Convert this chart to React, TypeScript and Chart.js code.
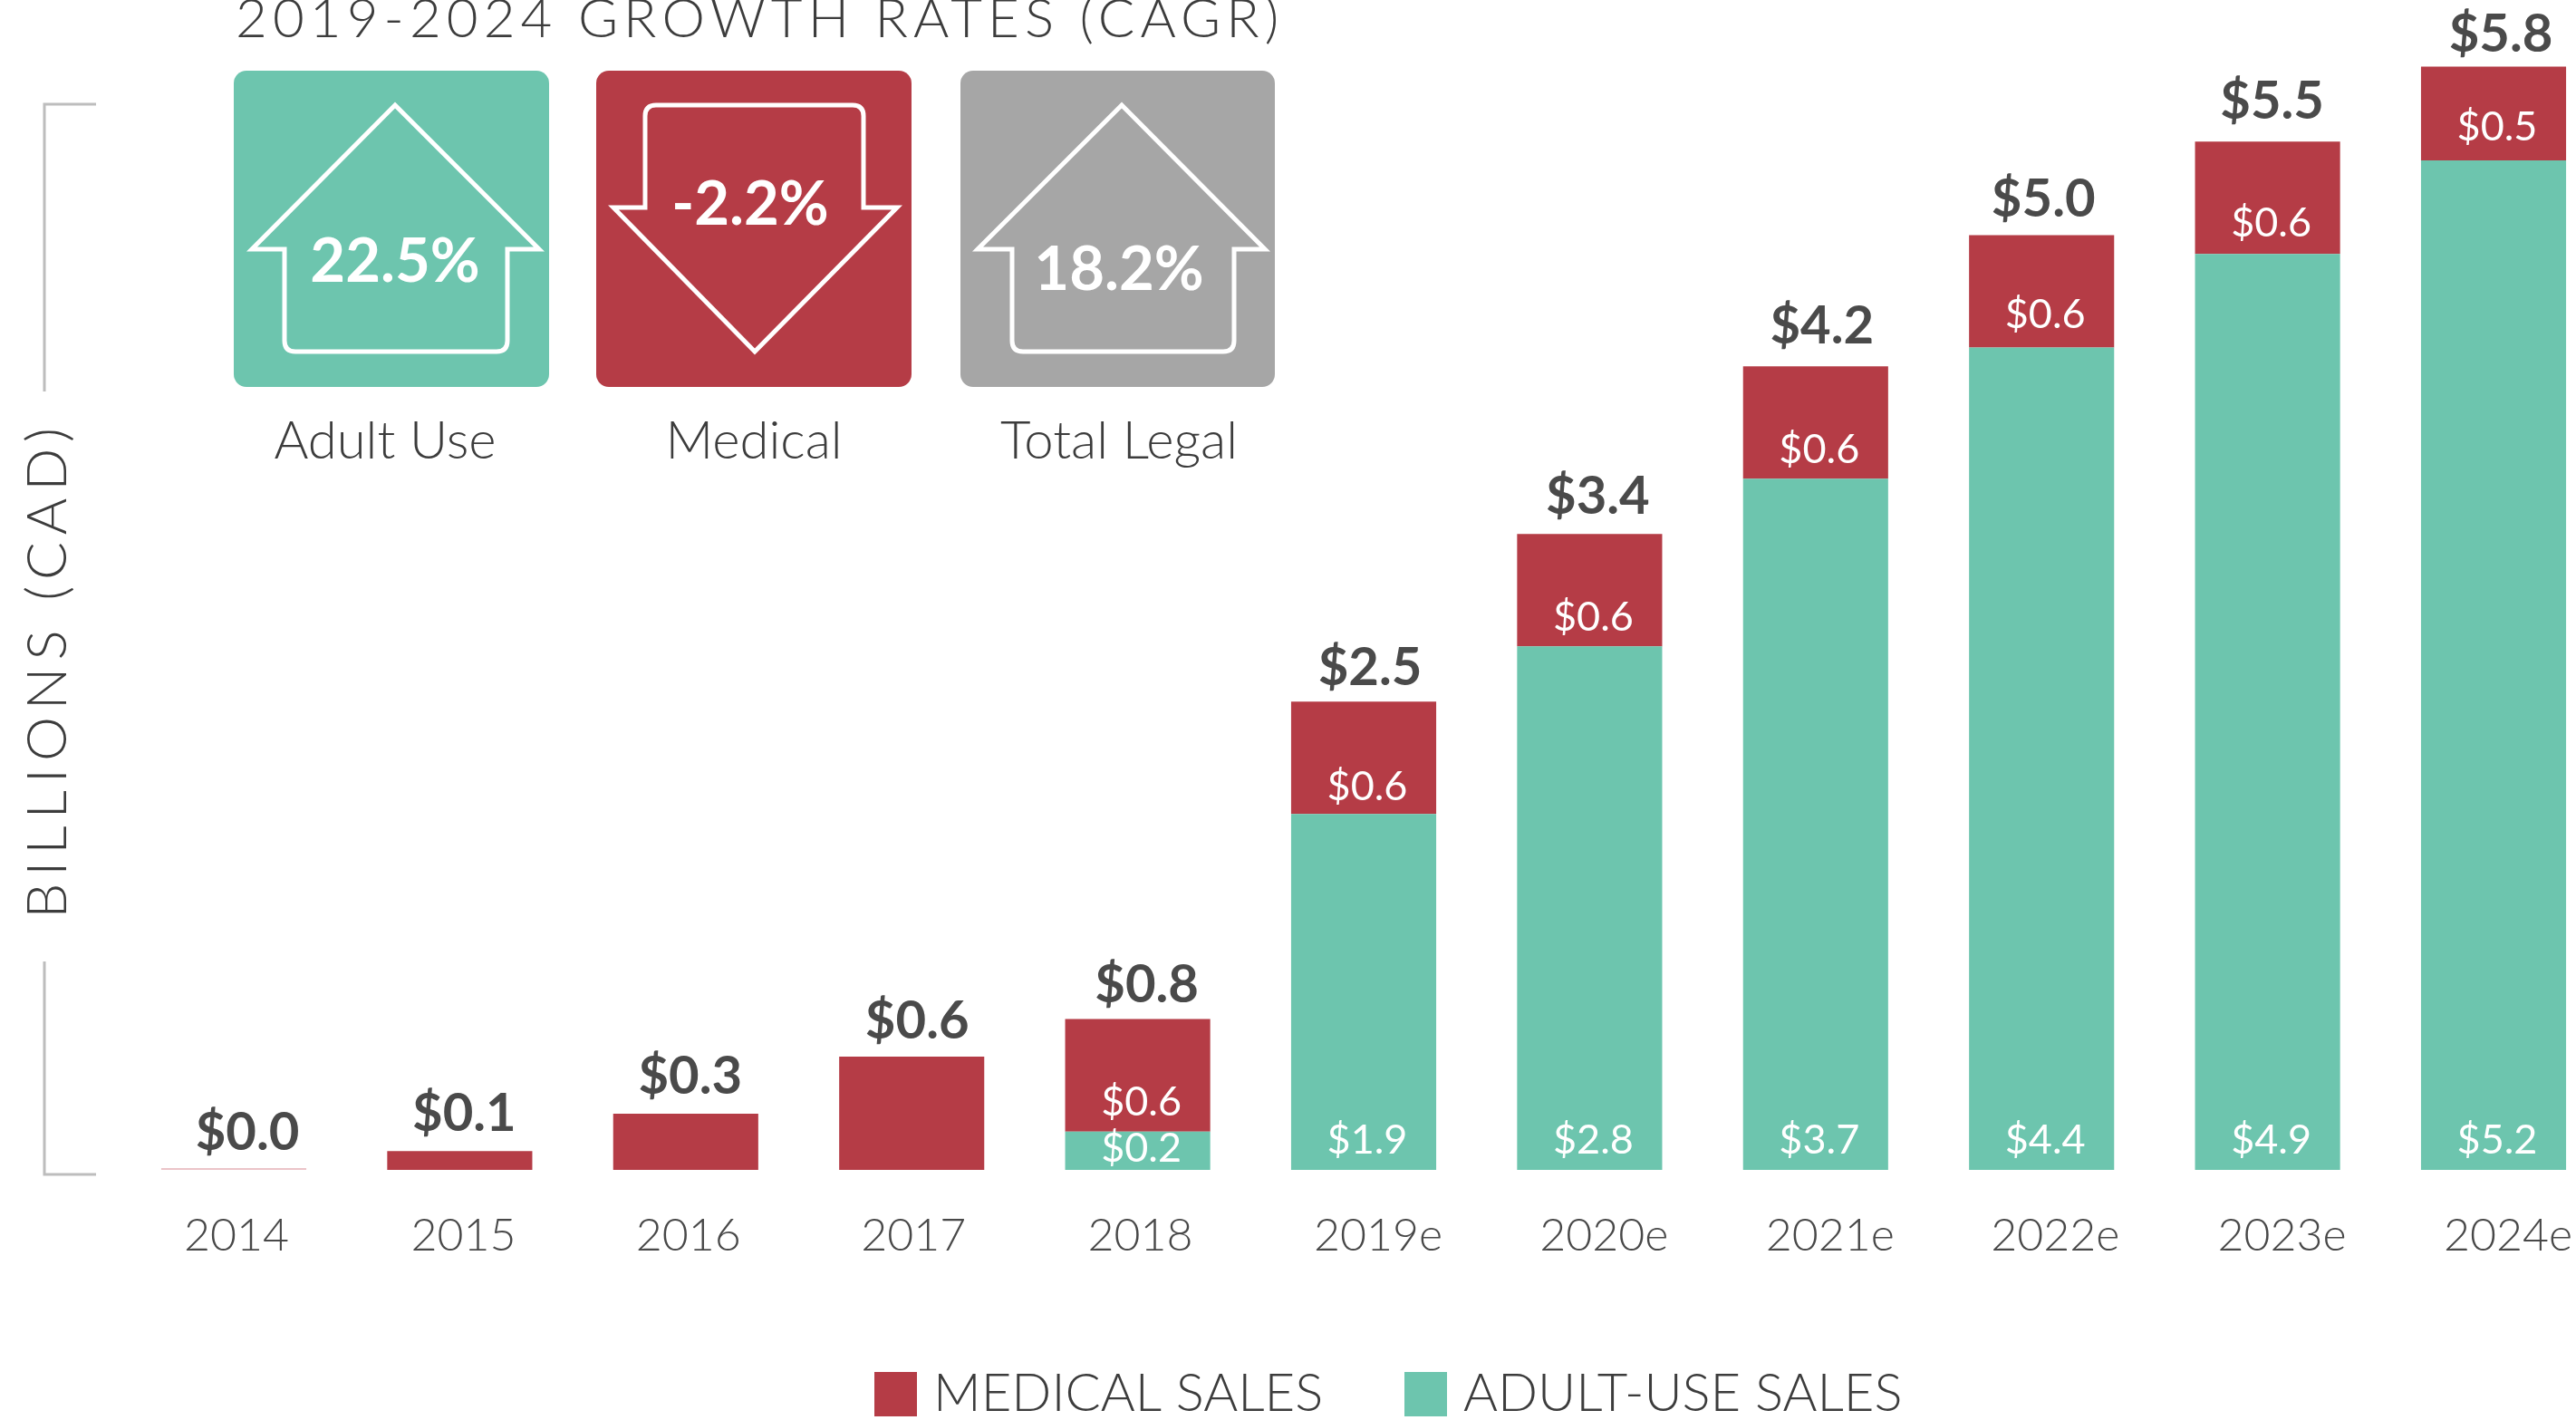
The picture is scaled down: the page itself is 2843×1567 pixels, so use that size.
import React, { useEffect, useRef } from "react";
import { Chart, registerables } from "chart.js";

Chart.register(...registerables);

const categories = ["2014", "2015", "2016", "2017", "2018", "2019e", "2020e", "2021e", "2022e", "2023e", "2024e"];
const adultValues = [0, 0, 0, 0, 0.205, 1.9, 2.795, 3.69, 4.39, 4.89, 5.39];
const medicalValues = [0.01, 0.1, 0.3, 0.605, 0.6, 0.6, 0.6, 0.6, 0.6, 0.6, 0.5];
const totalLabels = ["$0.0", "$0.1", "$0.3", "$0.6", "$0.8", "$2.5", "$3.4", "$4.2", "$5.0", "$5.5", "$5.8"];
const adultLabels = ["", "", "", "", "$0.2", "$1.9", "$2.8", "$3.7", "$4.4", "$4.9", "$5.2"];
const medicalLabels = ["", "", "", "", "$0.6", "$0.6", "$0.6", "$0.6", "$0.6", "$0.6", "$0.5"];
const cagrTitle = "2019-2024 GROWTH RATES (CAGR)";
const cagrNames = ["Adult Use", "Medical", "Total Legal"];
const cagrRates = ["22.5%", "-2.2%", "18.2%"];
const axisTitle = "BILLIONS (CAD)";
const seriesNames = ["MEDICAL SALES", "ADULT-USE SALES"];

const TEAL = "#6DC5AE";
const RED = "#B53C46";
const GRAY = "#A6A6A6";
const DARK = "#4A4A4A";
const THIN = "#3C3C3C";
const FONT = "Lato";

const tickShift = [3, 4, 3, 2, 3, 16, 16, 16, 15, 16, 16];
const totalShift = [15, 5, 5, 6, 10, 7, 9, 7, 2, 5, 8];
const totalLift = [39, 41, 41, 39, 37, 37, 41, 44, 39, 44, 35];
const medicalLift = [0, 0, 0, 0, 32, 30, 32, 32, 36, 34, 36];

function text(ctx: any, s: string, x: number, y: number, font: string, color: string, align = "center", spacing = "0px") {
  ctx.save();
  ctx.font = font;
  ctx.fillStyle = color;
  ctx.textAlign = align;
  ctx.textBaseline = "middle";
  ctx.letterSpacing = spacing;
  ctx.fillText(s, x, y);
  ctx.restore();
}

function arrow(ctx: any, up: boolean, tipX: number, tipY: number, wingY: number, wingL: number, wingR: number, stemL: number, stemR: number, endY: number) {
  const r = 12;
  const d = up ? -1 : 1;
  ctx.save();
  ctx.strokeStyle = "#FFFFFF";
  ctx.lineWidth = 5;
  ctx.lineJoin = "miter";
  ctx.beginPath();
  ctx.moveTo(tipX, tipY);
  ctx.lineTo(wingR, wingY);
  ctx.lineTo(stemR, wingY);
  ctx.lineTo(stemR, endY + d * r);
  ctx.quadraticCurveTo(stemR, endY, stemR - r, endY);
  ctx.lineTo(stemL + r, endY);
  ctx.quadraticCurveTo(stemL, endY, stemL, endY + d * r);
  ctx.lineTo(stemL, wingY);
  ctx.lineTo(wingL, wingY);
  ctx.closePath();
  ctx.stroke();
  ctx.restore();
}

const decorations = {
  id: "decorations",
  beforeDraw(chart: any) {
    const items = chart.scales.x.getLabelItems(chart.chartArea);
    items.forEach((it: any, i: number) => {
      it.options.translation[0] += tickShift[i];
    });
  },
  afterDatasetsDraw(chart: any) {
    const ctx = chart.ctx;
    const adult = chart.getDatasetMeta(0).data;
    const medical = chart.getDatasetMeta(1).data;

    categories.forEach((_, i) => {
      const top = medical[i];
      text(ctx, totalLabels[i], top.x + totalShift[i], top.y - totalLift[i], `700 58px ${FONT}`, DARK);
      if (medicalLabels[i]) {
        text(ctx, medicalLabels[i], top.x + 4, top.base - medicalLift[i], `400 45px ${FONT}`, "#FFFFFF");
      }
      if (adultLabels[i]) {
        const lift = i === 4 ? 24 : 33;
        text(ctx, adultLabels[i], adult[i].x + 4, adult[i].base - lift, `400 45px ${FONT}`, "#FFFFFF");
      }
    });

    // CAGR panel
    text(ctx, cagrTitle, 260, 22, `300 60px ${FONT}`, THIN, "left", "6.1px");
    const boxes = [
      { x: 258, w: 348, color: TEAL },
      { x: 658, w: 348, color: RED },
      { x: 1060, w: 347, color: GRAY },
    ];
    boxes.forEach((b) => {
      ctx.fillStyle = b.color;
      ctx.beginPath();
      ctx.roundRect(b.x, 78, b.w, 349, 14);
      ctx.fill();
    });
    arrow(ctx, true, 436, 116, 275, 278, 595, 314, 560, 388);
    arrow(ctx, false, 833, 388, 229, 677, 990, 712, 953, 116);
    arrow(ctx, true, 1238, 116, 275, 1079, 1396, 1117, 1362, 388);
    const rateFont = `700 67px ${FONT}`;
    text(ctx, cagrRates[0], 436, 289, rateFont, "#FFFFFF");
    text(ctx, cagrRates[1], 828, 226, rateFont, "#FFFFFF");
    text(ctx, cagrRates[2], 1235, 298, rateFont, "#FFFFFF");
    const nameFont = `300 58px ${FONT}`;
    text(ctx, cagrNames[0], 425, 487, nameFont, THIN);
    text(ctx, cagrNames[1], 832, 487, nameFont, THIN);
    text(ctx, cagrNames[2], 1235, 487, nameFont, THIN);

    // Axis bracket and rotated title
    ctx.save();
    ctx.strokeStyle = "#BDBDBD";
    ctx.lineWidth = 3;
    ctx.beginPath();
    ctx.moveTo(106, 115);
    ctx.lineTo(49, 115);
    ctx.lineTo(49, 432);
    ctx.moveTo(49, 1061);
    ctx.lineTo(49, 1296);
    ctx.lineTo(106, 1296);
    ctx.stroke();
    ctx.translate(53, 739);
    ctx.rotate(-Math.PI / 2);
    text(ctx, axisTitle, 0, 0, `300 62px ${FONT}`, THIN, "center", "7.9px");
    ctx.restore();

    // Legend
    ctx.fillStyle = RED;
    ctx.fillRect(965, 1514, 47, 49);
    text(ctx, seriesNames[0], 1030, 1538, `300 58px ${FONT}`, THIN, "left");
    ctx.fillStyle = TEAL;
    ctx.fillRect(1550, 1514, 47, 49);
    text(ctx, seriesNames[1], 1615, 1538, `300 58px ${FONT}`, THIN, "left");
  },
};

export default function App() {
  const ref = useRef<HTMLCanvasElement>(null);
  useEffect(() => {
    const chart = new Chart(ref.current as HTMLCanvasElement, {
      type: "bar",
      data: {
        labels: categories,
        datasets: [
          { label: seriesNames[1], data: adultValues, backgroundColor: TEAL, barPercentage: 0.642, categoryPercentage: 1 },
          {
            label: seriesNames[0],
            data: medicalValues,
            backgroundColor: medicalValues.map((_, i) => (i === 0 ? "#EBC4C8" : RED)),
            barPercentage: 0.642,
            categoryPercentage: 1,
          },
        ],
      },
      options: {
        animation: false,
        responsive: false,
        layout: { padding: { left: 133.3, right: 23.3, top: 50.8, bottom: 0 } },
        plugins: { legend: { display: false }, tooltip: { enabled: false } },
        scales: {
          x: {
            stacked: true,
            grid: { display: false },
            border: { display: false },
            afterFit(scale: any) {
              scale.height = 276;
            },
            ticks: {
              autoSkip: false,
              maxRotation: 0,
              padding: 35,
              color: "#484848",
              font: { family: FONT, size: 50, weight: "300" },
            },
          },
          y: { stacked: true, display: false, min: 0, max: 6 },
        },
      },
      plugins: [decorations],
    } as any);
    return () => chart.destroy();
  }, []);
  return (
    <div style={{ position: "fixed", left: 0, top: 0, width: 2843, height: 1567, overflow: "hidden", background: "#FFFFFF" }}>
      <canvas ref={ref} width={2900} height={1567} style={{ display: "block" }} />
    </div>
  );
}
